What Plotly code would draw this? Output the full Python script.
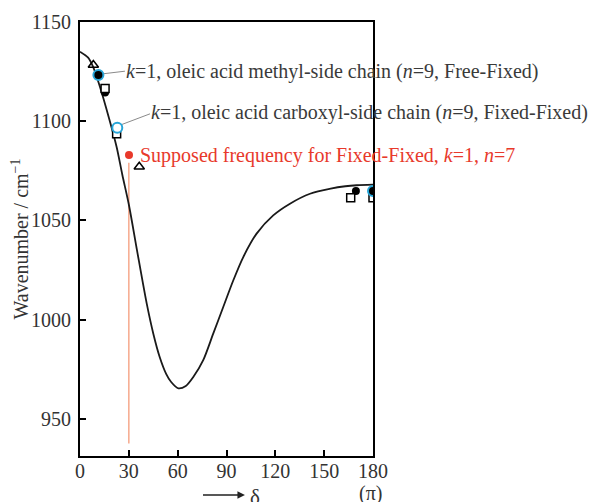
import plotly.graph_objects as go

# Curve
curve_x = [0, 5, 8, 12, 18, 22.5, 26, 30, 35, 41, 45, 49, 53, 56, 60.4, 65, 69.6, 75.7, 81.9,
           88, 94.2, 100.3, 108.5, 118.7, 129, 141.3, 154, 163, 170, 180]
curve_y = [1135, 1132, 1127.5, 1118, 1101, 1087, 1073, 1058, 1035, 1008, 993, 981, 972.5,
           968.5, 965.3, 966.5, 971, 979.5, 993, 1006.3, 1019.8, 1031.5, 1043.3, 1052.5,
           1058.4, 1063.4, 1066, 1067.2, 1067.7, 1068]

# Data markers
tri_x = [8.2, 36.4]
tri_y = [1128.3, 1077]
sq_x = [15.4, 22.5, 166.3, 180]
sq_y = [1116.5, 1093.7, 1061.4, 1061.4]
dot_x = [15.4, 169.5]
dot_y = [1114.5, 1064.8]
blue_filled_x = [11.3, 180]
blue_filled_y = [1123.3, 1064.8]
blue_open_x = [22.9]
blue_open_y = [1096.7]
red_x = [30.1]
red_y = [1083]
red_line_x = [30, 30]
red_line_y = [1079, 937.5]

# Label connectors and labels
conn1_x = [14.3, 27.6]
conn1_y = [1123.9, 1125.2]
conn2_x = [25.6, 43.0]
conn2_y = [1098.3, 1103.7]
labels = [
    "<i>k</i>=1, oleic acid methyl-side chain (<i>n</i>=9, Free-Fixed)",
    "<i>k</i>=1, oleic acid carboxyl-side chain (<i>n</i>=9, Fixed-Fixed)",
    "Supposed frequency for Fixed-Fixed, <i>k</i>=1, <i>n</i>=7",
]
label_x = [27.2, 42.4, 35.8]
label_y = [1124.8, 1104.6, 1082.7]
label_colors = ["#3a3a3a", "#3a3a3a", "#e8392b"]

x_ticks = [0, 30, 60, 90, 120, 150, 180]
y_ticks = [950, 1000, 1050, 1100, 1150]

FONT = "Liberation Serif"
BLUE = "#27a6d9"
TXT = "#333"

fig = go.Figure()
fig.add_trace(go.Scatter(x=red_line_x, y=red_line_y, mode="lines",
                         line=dict(color="#f6a98c", width=1.5), hoverinfo="skip"))
fig.add_trace(go.Scatter(x=curve_x, y=curve_y, mode="lines", line_shape="spline",
                         line=dict(color="#1a1a1a", width=1.8, smoothing=0.8)))
fig.add_trace(go.Scatter(x=conn1_x, y=conn1_y, mode="lines", line=dict(color="#8a8a8a", width=1)))
fig.add_trace(go.Scatter(x=conn2_x, y=conn2_y, mode="lines", line=dict(color="#8a8a8a", width=1)))
fig.add_trace(go.Scatter(x=tri_x, y=tri_y, mode="markers",
                         marker=dict(symbol="triangle-up-open", size=9, color="black",
                                     line=dict(width=1.5))))
fig.add_trace(go.Scatter(x=dot_x, y=dot_y, mode="markers",
                         marker=dict(symbol="circle", size=8, color="black")))
fig.add_trace(go.Scatter(x=sq_x, y=sq_y, mode="markers",
                         marker=dict(symbol="square", size=8, color="white",
                                     line=dict(color="black", width=1.5))))
fig.add_trace(go.Scatter(x=blue_filled_x, y=blue_filled_y, mode="markers",
                         marker=dict(symbol="circle", size=10, color="black",
                                     line=dict(color=BLUE, width=2))))
fig.add_trace(go.Scatter(x=blue_open_x, y=blue_open_y, mode="markers",
                         marker=dict(symbol="circle", size=10, color="white",
                                     line=dict(color=BLUE, width=2))))
fig.add_trace(go.Scatter(x=red_x, y=red_y, mode="markers",
                         marker=dict(symbol="circle", size=8, color="#e8392b")))

for t, xx, yy, c in zip(labels, label_x, label_y, label_colors):
    fig.add_annotation(x=xx, y=yy, text=t, showarrow=False, xanchor="left", yanchor="middle",
                       font=dict(family=FONT, size=20, color=c))

# x-axis arrow with delta and (pi)
fig.add_annotation(x=0.563, y=-0.09, xref="paper", yref="paper", ax=-46, ay=0,
                   text=" ", showarrow=True, arrowhead=2, arrowsize=1, arrowwidth=1.5,
                   arrowcolor="#222")
fig.add_annotation(x=0.572, y=-0.094, xref="paper", yref="paper", text="δ", showarrow=False,
                   xanchor="left", yanchor="middle", font=dict(family=FONT, size=21, color=TXT))
fig.add_annotation(x=0.993, y=-0.086, xref="paper", yref="paper", text="(π)", showarrow=False,
                   xanchor="center", yanchor="middle", font=dict(family=FONT, size=20, color=TXT))

fig.update_layout(
    width=588, height=494,
    margin=dict(l=72, r=223, t=14, b=46),
    paper_bgcolor="white", plot_bgcolor="white",
    showlegend=False,
    font=dict(family=FONT, size=20, color=TXT),
    xaxis=dict(range=[0, 180], tickvals=x_ticks, ticks="inside", ticklen=6, tickwidth=1.5,
               tickcolor="black", showline=True, linecolor="black", linewidth=2, mirror=True,
               showgrid=False, zeroline=False, automargin=False, ticklabelstandoff=-4,
               tickfont=dict(family=FONT, size=20, color=TXT)),
    yaxis=dict(range=[931.2, 1150], tickvals=y_ticks, ticks="inside", ticklen=6, tickwidth=1.5,
               tickcolor="black", showline=True, linecolor="black", linewidth=2, mirror=True,
               showgrid=False, zeroline=False, ticklabelstandoff=3, automargin=False,
               tickfont=dict(family=FONT, size=20, color=TXT),
               title=dict(text="Wavenumber / cm<sup>−1</sup>", standoff=2,
                          font=dict(family=FONT, size=20, color=TXT))),
)

fig.write_html("out.html")
